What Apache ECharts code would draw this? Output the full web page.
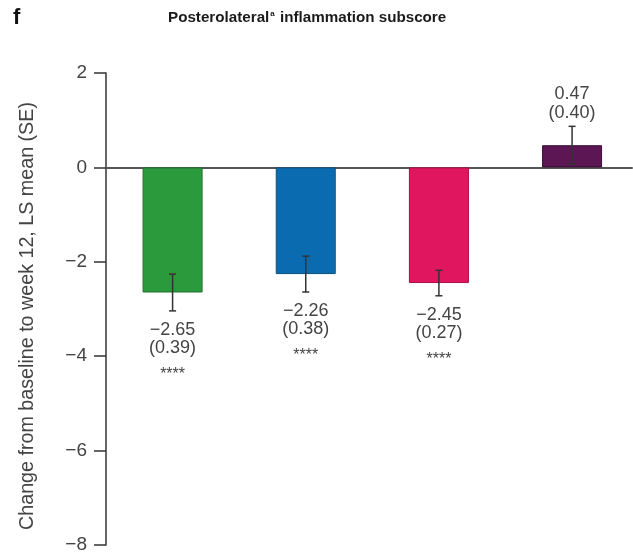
<!DOCTYPE html>
<html>
<head>
<meta charset="utf-8">
<script src="https://cdn.jsdelivr.net/npm/echarts@6/dist/echarts.min.js"></script>
<style>
  html, body { margin: 0; padding: 0; background: #fff; }
  #chart { width: 633px; height: 558px; }
</style>
</head>
<body>
<div id="chart"></div>
<script>
// Treatment groups (positions along the x scale) and their results
const groups = [1, 2, 3, 4];
const lsMean = [-2.65, -2.26, -2.45, 0.47];
const se = [0.39, 0.38, 0.27, 0.40];
const significance = ['****', '****', '****', ''];
const barColors = ['#2b9a3d', '#0b6bb0', '#e0175f', '#5b1653'];
const barBorders = ['#1f6f2c', '#08507f', '#a80f47', '#3b0d36'];
const yTicks = [-8, -6, -4, -2, 0, 2];

const FONT = '"Liberation Sans", Arial, Helvetica, sans-serif';
const TEXT = '#444';

function signed(v) {
  return v < 0 ? '\u2212' + Math.abs(v).toFixed(2) : v.toFixed(2);
}

const chart = echarts.init(document.getElementById('chart'), null, { renderer: 'canvas' });

chart.setOption({
  animation: false,
  backgroundColor: '#fff',
  title: [
    {
      text: 'f',
      left: 8,
      top: 2,
      textStyle: { fontFamily: FONT, fontSize: 22, fontWeight: 'bold', color: '#111' }
    },
    {
      text: '{t|Posterolateral}{s|a}{t| inflammation subscore}',
      left: 163,
      top: 5,
      textStyle: {
        rich: {
          t: { fontFamily: FONT, fontSize: 15.2, fontWeight: 'bold', color: '#1a1a1a' },
          s: { fontFamily: FONT, fontSize: 8, fontWeight: 'bold', color: '#1a1a1a', verticalAlign: 'top', padding: [0, 1, 6, 1] }
        }
      }
    }
  ],
  grid: { left: 106, right: 1, top: 73, bottom: 13, containLabel: false },
  xAxis: {
    type: 'value',
    min: 0.5,
    max: 4.45,
    axisLine: { show: true, onZero: true, lineStyle: { color: '#555', width: 2 } },
    axisTick: { show: false },
    axisLabel: { show: false },
    splitLine: { show: false }
  },
  yAxis: {
    type: 'value',
    min: yTicks[0],
    max: yTicks[yTicks.length - 1],
    interval: yTicks[1] - yTicks[0],
    name: 'Change from baseline to week 12, LS mean (SE)',
    nameLocation: 'middle',
    nameRotate: 90,
    nameGap: 68,
    nameTextStyle: { fontFamily: FONT, fontSize: 19.7, color: TEXT, padding: [0, 14, 0, 0] },
    axisLine: { show: true, onZero: false, lineStyle: { color: '#333', width: 1.5 } },
    axisTick: { show: true, length: 12, lineStyle: { color: '#333', width: 1.5 } },
    axisLabel: {
      fontFamily: FONT, fontSize: 19, color: TEXT, margin: 19,
      formatter: v => (v < 0 ? '\u2212' + Math.abs(v) : String(v))
    },
    splitLine: { show: false }
  },
  series: [
    {
      type: 'bar',
      barWidth: 60,
      data: groups.map((g, i) => ({
        value: [g, lsMean[i]],
        itemStyle: { color: barColors[i], borderColor: barBorders[i], borderWidth: 1 }
      })),
      z: 2
    },
    {
      type: 'custom',
      z: 5,
      encode: { x: 0, y: 1 },
      data: groups.map((g, i) => [g, lsMean[i], se[i], i]),
      renderItem: function (params, api) {
        const x = api.value(0);
        const m = api.value(1);
        const s = api.value(2);
        const i = api.value(3);
        const hi = api.coord([x, m + s]);
        const lo = api.coord([x, m - s]);
        const cap = 3.5;
        const stroke = { stroke: '#333', lineWidth: 1.5 };
        const neg = m < 0;
        const end = neg ? lo : hi;
        const children = [
          { type: 'line', shape: { x1: hi[0], y1: hi[1], x2: lo[0], y2: lo[1] }, style: stroke },
          { type: 'line', shape: { x1: hi[0] - cap, y1: hi[1], x2: hi[0] + cap, y2: hi[1] }, style: stroke },
          { type: 'line', shape: { x1: lo[0] - cap, y1: lo[1], x2: lo[0] + cap, y2: lo[1] }, style: stroke },
          {
            type: 'text',
            x: end[0],
            y: neg ? end[1] + 10 : end[1] - 4,
            style: {
              text: signed(m) + '\n(' + s.toFixed(2) + ')',
              fontFamily: FONT, fontSize: 18, lineHeight: neg ? 18 : 19,
              fill: TEXT, align: 'center', verticalAlign: neg ? 'top' : 'bottom'
            }
          }
        ];
        if (significance[i]) {
          children.push({
            type: 'text',
            x: end[0],
            y: end[1] + 64,
            style: {
              text: significance[i],
              fontFamily: FONT, fontSize: 16,
              fill: TEXT, align: 'center', verticalAlign: 'middle'
            }
          });
        }
        return { type: 'group', children: children };
      }
    }
  ]
});
</script>
</body>
</html>
